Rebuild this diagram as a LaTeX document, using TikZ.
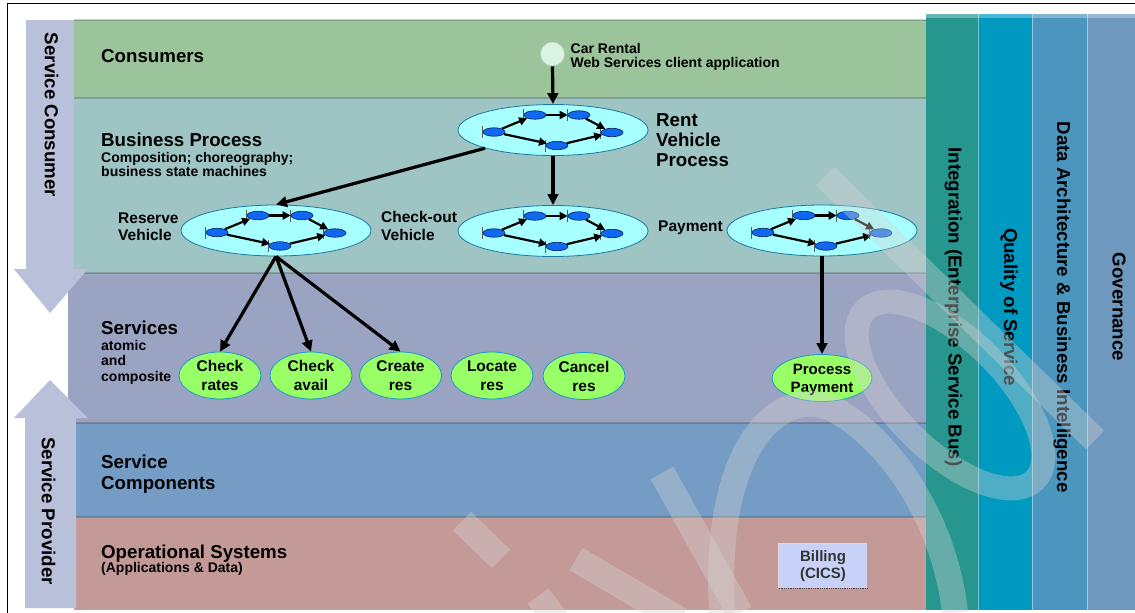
\documentclass[tikz,border=0pt]{standalone}
\usepackage{fontspec}
\setmainfont{Liberation Sans}
\usetikzlibrary{shapes.geometric,arrows.meta}

\definecolor{consumerc}{RGB}{155,196,155}
\definecolor{bizc}{RGB}{158,196,196}
\definecolor{svcc}{RGB}{154,163,194}
\definecolor{compc}{RGB}{116,156,196}
\definecolor{opc}{RGB}{196,154,152}
\definecolor{arrowc}{RGB}{184,192,218}
\definecolor{intc}{RGB}{38,150,143}
\definecolor{qosc}{RGB}{0,153,192}
\definecolor{datac}{RGB}{74,150,190}
\definecolor{govc}{RGB}{111,152,190}
\definecolor{procfill}{RGB}{168,255,255}
\definecolor{procline}{RGB}{26,122,160}
\definecolor{wffill}{RGB}{16,104,240}
\definecolor{wfline}{RGB}{0,32,96}
\definecolor{svcfill}{RGB}{153,255,102}
\definecolor{svcline}{RGB}{30,150,200}
\definecolor{billfill}{RGB}{200,210,248}
\definecolor{clientfill}{RGB}{215,245,225}
\definecolor{wmc}{RGB}{210,210,210}
\definecolor{billtext}{RGB}{51,51,51}

\newcommand\wflow[1]{%
  \begin{scope}[shift={(#1.center)}]
    \node[wfn] (#1-a) at (-59,2) {};
    \node[wfn] (#1-b) at (-18,-15) {};
    \node[wfn] (#1-c) at (26,-15) {};
    \node[wfn] (#1-d) at (59,2.5) {};
    \node[wfn] (#1-e) at (4,15.5) {};
    \foreach \k in {a,b,c,d,e} \draw[wftick] (#1-\k.west) +(0,-6) -- +(0,6);
    \draw[wfarr] (#1-a) -- (#1-b);
    \draw[wfarr] (#1-b) -- (#1-c);
    \draw[wfarr] (#1-c) -- (#1-d);
    \draw[wfarr] (#1-a) -- (#1-e);
    \draw[wfarr] (#1-e) -- (#1-d);
  \end{scope}}

\begin{document}
\begin{tikzpicture}[x=1pt,y=-1pt,
  big/.style={font=\fontsize{18.7}{21}\selectfont\bfseries, inner sep=0pt, anchor=base west},
  sub/.style={font=\fontsize{14}{16}\selectfont\bfseries, inner sep=0pt, anchor=base west},
  mid/.style={font=\fontsize{15.5}{18}\selectfont\bfseries, inner sep=0pt, anchor=base west},
  vtxt/.style={font=\fontsize{18.7}{21}\selectfont\bfseries, inner sep=0pt, rotate=-90},
  sep/.style={line width=2pt, black, opacity=0.18},
  procell/.style={ellipse, draw=procline, fill=procfill, line width=0.8pt, minimum width=190pt, minimum height=51pt, inner sep=0pt},
  svcell/.style={ellipse, draw=svcline, fill=svcfill, line width=0.8pt, minimum width=82pt, minimum height=47pt, inner sep=0pt},
  svct/.style={font=\fontsize{15.5}{19}\selectfont\bfseries, align=center, inner sep=0pt},
  wfn/.style={ellipse, draw=wfline, fill=wffill, line width=0.6pt, minimum width=22pt, minimum height=8.5pt, inner sep=0pt},
  wftick/.style={draw=gray!70!black, line width=0.6pt},
  wfarr/.style={line width=2.2pt, -{Triangle[length=8pt,width=8pt]}},
  bigarr/.style={line width=3.2pt, -{Triangle[length=11pt,width=10.5pt]}},
  wm/.style={draw=wmc, draw opacity=0.375, line width=26pt}
]
\useasboundingbox (0,0) rectangle (1135,613);
\fill[white] (0,0) rectangle (1135,613);
\draw[line width=1pt] (7,613) -- (7,3) -- (1135,3);

% layers
\fill[consumerc] (74,20) rectangle (926,98);
\fill[bizc] (74,98) rectangle (926,273);
\fill[svcc] (68,273) rectangle (926,423);
\fill[compc] (74,423) rectangle (926,517);
\fill[opc] (74,517) rectangle (926,610);
\draw[sep] (74,20) -- (926,20);
\draw[sep] (74,98) -- (926,98);
\draw[sep] (68,273) -- (926,273);
\draw[sep] (74,423) -- (926,423);
\draw[sep] (74,517) -- (926,517);

% vertical columns
\fill[intc] (926,14) rectangle (978,610);
\fill[qosc] (978,14) rectangle (1032,610);
\fill[datac] (1032,14) rectangle (1087,610);
\fill[govc] (1087,14) rectangle (1135,610);
\fill[white, opacity=0.3] (926,14) rectangle (1135,18);
\draw[white, opacity=0.45, line width=1pt] (978,14) -- (978,610) (1032,14) -- (1032,610) (1087,14) -- (1087,610);
\node[vtxt] (tint) at (953.5,307) {Integration (Enterprise Service Bus)};
\node[vtxt] (tqos) at (1009,307) {Quality of Service};
\node[vtxt] (tdata) at (1062,307) {Data Architecture \& Business Intelligence};
\node[vtxt] (tgov) at (1119,307) {Governance};

% left arrows
\fill[arrowc] (26,20) -- (74,20) -- (74,269) -- (88,269) -- (50,313) -- (14,269) -- (26,269) -- cycle;
\fill[arrowc] (50,380) -- (88,418) -- (76,418) -- (76,608) -- (25,608) -- (25,418) -- (14,418) -- cycle;
\node[vtxt] (tcons) at (51.5,115) {Service Consumer};
\node[vtxt] (tprov) at (48.5,511) {Service Provider};

% layer labels
\node[big] (lcons) at (101,62.5) {Consumers};
\node[big] (lbp) at (101,146.5) {Business Process};
\node[sub] (lbp2) at (101,162.5) {Composition; choreography;};
\node[sub] (lbp3) at (101,176.5) {business state machines};
\node[big] (lsvc) at (101,334.3) {Services};
\node[sub] (lsvc2) at (101,350) {atomic};
\node[sub] (lsvc3) at (101,365.7) {and};
\node[sub] (lsvc4) at (101,381) {composite};
\node[big] (lcomp) at (101,468.3) {Service};
\node[big] (lcomp2) at (101,489.3) {Components};
\node[big] (lop) at (101,558.3) {Operational Systems};
\node[sub] (lop2) at (101,572.5) {(Applications \& Data)};

% consumer
\node[circle, fill=clientfill, draw=gray!45, line width=0.6pt, minimum size=24pt, inner sep=0pt] (client) at (552.5,54) {};
\node[sub] (ct1) at (570.5,53.3) {Car Rental};
\node[sub] (ct2) at (570.5,67.7) {Web Services client application};

% processes
\node[procell] (rent) at (553,130) {};
\node[procell] (reserve) at (276,230.5) {};
\node[procell] (checkout) at (553,231) {};
\node[procell] (payment) at (822,230.5) {};
\wflow{rent}
\wflow{reserve}
\wflow{checkout}
\wflow{payment}
\node[big] (lrent1) at (656,126) {Rent};
\node[big] (lrent2) at (656,146.7) {Vehicle};
\node[big] (lrent3) at (656,166.7) {Process};
\node[mid] (lres1) at (118,223.3) {Reserve};
\node[mid] (lres2) at (118,240) {Vehicle};
\node[mid] (lchk1) at (381,222.7) {Check-out};
\node[mid] (lchk2) at (381,240) {Vehicle};
\node[mid] (lpay) at (658,231.7) {Payment};

% services
\node[svcell] (rates) at (220,375.5) {};
\node[svcell] (avail) at (311,375.5) {};
\node[svcell] (create) at (400.5,375.5) {};
\node[svcell] (locate) at (492,375.5) {};
\node[svcell] (cancel) at (584,376) {};
\node[svcell, minimum width=100pt] (ppay) at (822,378) {};
\node[svct] (rates-t) at (220,375.5) {Check\\rates};
\node[svct] (avail-t) at (311,375.5) {Check\\avail};
\node[svct] (create-t) at (400.5,375.5) {Create\\res};
\node[svct] (locate-t) at (492,375.5) {Locate\\res};
\node[svct] (cancel-t) at (584,376) {Cancel\\res};
\node[svct, font=\fontsize{15}{18.3}\selectfont\bfseries] (ppay-t) at (822,380) {Process\\Payment};

% billing
\node[rectangle, fill=billfill, minimum width=88pt, minimum height=44pt, inner sep=0pt,
      font=\fontsize{15}{17}\selectfont\bfseries, text=billtext, align=center] (billing) at (823,566) {Billing\\(CICS)};
\draw[densely dotted, line width=0.8pt, black!70] (billing.south west) -- (billing.south east);
\draw[white, opacity=0.6, line width=0.8pt] (billing.south west) -- (billing.north west) -- (billing.north east);

% connectors
\draw[bigarr] (client.south) -- (rent.north);
\draw[bigarr] (rent.south) -- (checkout.north);
\draw[bigarr] (rent.195) -- (reserve.north);
\draw[bigarr] (reserve.south) -- (rates.north);
\draw[bigarr] (reserve.south) -- (avail.north);
\draw[bigarr] (reserve.south) -- (create.north);
\draw[bigarr] (payment.south) -- (ppay.north);

% watermark
\begin{scope}[wm]
  \draw (825,176) -- (1095,440);
  \draw (722,613) .. controls (712,430) and (790,385) .. (835,410) .. controls (890,440) and (945,520) .. (955,613);
  \draw[line width=24pt, rotate around={-45:(950,395)}] (950,395) ellipse [x radius=120, y radius=55];
  \draw (662,473) -- (740,613);
  \draw (462,521) -- (501,559);
  \draw (576,559) -- (680,620);
  \draw (538,596) -- (560,625);
\end{scope}
\end{tikzpicture}
\end{document}
